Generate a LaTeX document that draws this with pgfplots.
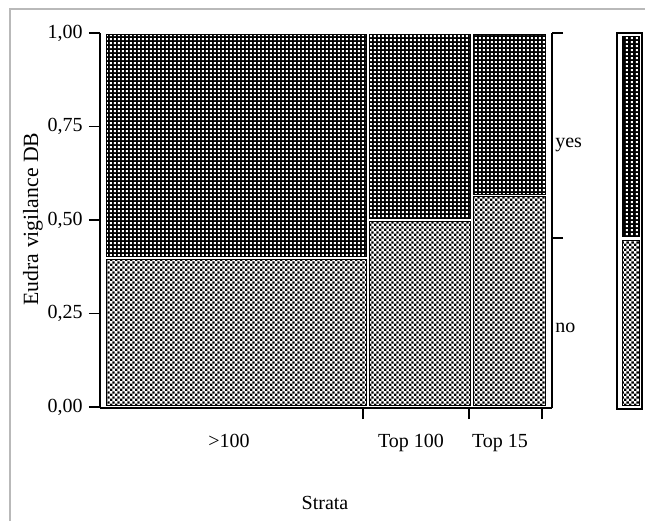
\documentclass[border=0pt]{standalone}
\usepackage{pgfplots}
\pgfplotsset{compat=1.18}
\usetikzlibrary{patterns.meta}
\usepackage{fontspec}
\setmainfont{Liberation Serif}

\tikzdeclarepattern{
  name=wdots, type=uncolored,
  bounding box={(0pt,0pt) and (3.3pt,3.3pt)},
  tile size={(3.3pt,3.3pt)},
  code={\fill (0.8pt,0.8pt) rectangle (2.4pt,2.4pt);}
}
\tikzdeclarepattern{
  name=checker, type=uncolored,
  bounding box={(0pt,0pt) and (3.6pt,3.6pt)},
  tile size={(3.6pt,3.6pt)},
  code={\fill (0pt,0pt) rectangle (1.8pt,1.8pt); \fill (1.8pt,1.8pt) rectangle (3.6pt,3.6pt);}
}

\tikzset{
  yestile/.style={draw=black, line width=0.75pt, preaction={fill=black}, pattern=wdots, pattern color=white},
  notile/.style={draw=black, line width=0.75pt, preaction={fill=white}, pattern=checker, pattern color=black},
}
\newcommand{\lab}{\fontsize{15}{18}\selectfont}

\begin{document}
\begin{tikzpicture}
\useasboundingbox (0pt,0pt) rectangle (483.75pt,390.75pt);
\draw[gray!55, line width=0.9pt] (7.5pt,0pt) -- (7.5pt,384pt) -- (483.75pt,384pt);

% main mosaic axis
\begin{axis}[
  at={(75pt,84.75pt)}, anchor=south west,
  scale only axis, width=339pt, height=281.25pt,
  xmin=-0.01367, xmax=1.01595, ymin=-0.00267, ymax=1,
  axis x line*=bottom, axis y line*=left,
  axis line style={line width=1.1pt},
  xtick={0.5854,0.8269,0.9932}, xticklabels={},
  ytick={0,0.25,0.5,0.75,1},
  yticklabels={{0,00},{0,25},{0,50},{0,75},{1,00}},
  tick align=outside, major tick length=8.25pt,
  tick style={line width=1.1pt, black},
  yticklabel style={font=\lab, anchor=east, inner sep=0pt, xshift=-4.5pt},
  clip=false,
]
% >100
\addplot[notile]  coordinates {(0,0.0053) (0.5923,0.0053) (0.5923,0.3957) (0,0.3957)} -- cycle;
\addplot[yestile] coordinates {(0,0.4037) (0.5923,0.4037) (0.5923,0.9973) (0,0.9973)} -- cycle;
% Top 100
\addplot[notile]  coordinates {(0.5991,0.0053) (0.8314,0.0053) (0.8314,0.4973) (0.5991,0.4973)} -- cycle;
\addplot[yestile] coordinates {(0.5991,0.5053) (0.8314,0.5053) (0.8314,0.9973) (0.5991,0.9973)} -- cycle;
% Top 15
\addplot[notile]  coordinates {(0.8360,0.0053) (1.0,0.0053) (1.0,0.5615) (0.8360,0.5615)} -- cycle;
\addplot[yestile] coordinates {(0.8360,0.5695) (1.0,0.5695) (1.0,0.9973) (0.8360,0.9973)} -- cycle;
\end{axis}

% right axis (response levels)
\begin{axis}[
  at={(75pt,84.75pt)}, anchor=south west,
  scale only axis, width=339pt, height=281.25pt,
  xmin=-0.01367, xmax=1.01595, ymin=-0.00267, ymax=1,
  axis x line=none, axis y line*=right,
  axis line style={line width=1.1pt},
  ytick={0.452,1}, yticklabels={},
  tick align=outside, major tick length=8.25pt,
  tick style={line width=1.1pt, black},
]
\end{axis}

% legend bar
\begin{axis}[
  at={(462.75pt,84pt)}, anchor=south west,
  scale only axis, width=18.75pt, height=282pt,
  xmin=0, xmax=1, ymin=0, ymax=1,
  axis lines=box, axis line style={line width=1.5pt},
  xtick=\empty, ytick=\empty,
]
\addplot[notile]  coordinates {(0.23,0.008) (0.88,0.008) (0.88,0.449) (0.23,0.449)} -- cycle;
\addplot[yestile] coordinates {(0.23,0.460) (0.88,0.460) (0.88,0.992) (0.23,0.992)} -- cycle;
\end{axis}

% labels
\node[rotate=90, anchor=center, font=\fontsize{16.3}{19}\selectfont] at (24.75pt,226.5pt) {Eudra vigilance DB};
\node[anchor=base, font=\lab] at (171.75pt,55.5pt) {>100};
\node[anchor=base, font=\lab] at (308.25pt,55.5pt) {Top 100};
\node[anchor=base, font=\lab] at (375pt,55.5pt) {Top 15};
\node[anchor=base, font=\lab] at (243.75pt,9pt) {Strata};
\node[anchor=base west, font=\lab, inner sep=0pt] at (416.25pt,280pt) {yes};
\node[anchor=base west, font=\lab, inner sep=0pt] at (416.25pt,141pt) {no};
\end{tikzpicture}
\end{document}
